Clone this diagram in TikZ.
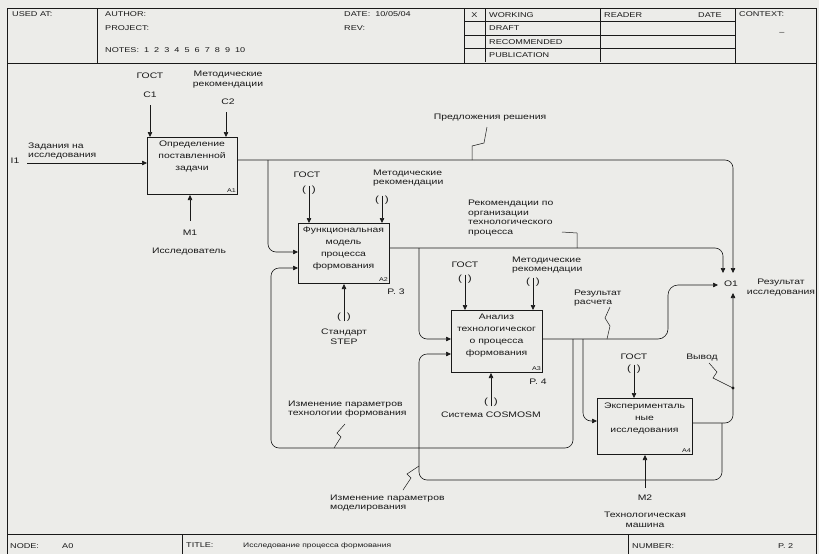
\documentclass[tikz,border=0pt]{standalone}
\usepackage{fontspec}
\setmainfont[FakeStretch=1.3]{Liberation Sans}
\usetikzlibrary{arrows.meta}
\definecolor{bg}{RGB}{236,236,233}
\definecolor{ink}{RGB}{25,25,25}
\begin{document}
\begin{tikzpicture}[x=1pt,y=-1pt,
  every node/.style={text=ink, inner sep=0pt},
  frame/.style={draw=ink, line width=0.8pt},
  fbox/.style={draw=ink, line width=1pt, anchor=north west, inner sep=0pt},
  btxt/.style={font=\fontsize{8}{12}\selectfont, align=center},
  lbl/.style={font=\fontsize{8}{10}\selectfont, align=center},
  lblw/.style={font=\fontsize{8}{9.5}\selectfont, align=left, anchor=west},
  hdr/.style={font=\fontsize{7}{8}\selectfont, anchor=west},
  bid/.style={font=\fontsize{5.5}{6}\selectfont, anchor=south east},
  tun/.style={font=\fontsize{9}{10}\selectfont},
  conn/.style={draw=ink, line width=0.6pt, rounded corners=8pt},
  arr/.style={conn, -{Triangle[length=5pt,width=4.5pt]}},
  sq/.style={draw=ink, line width=0.5pt},
]
\fill[bg] (0,0) rectangle (819,554);
\useasboundingbox (0,0) rectangle (819,554);

% ---------- frame, header, footer ----------
\draw[frame] (7,554) -- (7,8) -- (816,8) -- (816,554);
\draw[frame] (7,63) -- (816,63);
\draw[frame] (7,534) -- (816,534);
\draw[frame] (97,8) -- (97,63);
\draw[frame] (464,8) -- (464,63);
\draw[frame] (485,8) -- (485,62);
\draw[frame] (600,8) -- (600,62);
\draw[frame] (735,8) -- (735,63);
\draw[frame] (464,21.5) -- (735,21.5);
\draw[frame] (464,35) -- (735,35);
\draw[frame] (464,48.5) -- (735,48.5);
\draw[frame] (182,534) -- (182,554);
\draw[frame] (628,534) -- (628,554);

\node[hdr] (usedat) at (12,14) {USED AT:};
\node[hdr] (author) at (105,14) {AUTHOR:};
\node[hdr] (project) at (105,28) {PROJECT:};
\node[hdr] (notes) at (105,50) {NOTES:\ \ 1\ \ 2\ \ 3\ \ 4\ \ 5\ \ 6\ \ 7\ \ 8\ \ 9\ \ 10};
\node[hdr] (date) at (344,14) {DATE:\ \ 10/05/04};
\node[hdr] (rev) at (344,28) {REV:};
\node[hdr, anchor=center] (xmark) at (474.5,15) {X};
\node[hdr] (working) at (489,15) {WORKING};
\node[hdr] (draft) at (489,28.5) {DRAFT};
\node[hdr] (recom) at (489,42) {RECOMMENDED};
\node[hdr] (publ) at (489,55.5) {PUBLICATION};
\node[hdr] (reader) at (604,15) {READER};
\node[hdr] (date2) at (698,15) {DATE};
\node[hdr] (context) at (739,14) {CONTEXT:};
\node[hdr, anchor=center] (ctxdash) at (782,33) {--};

\node[hdr] (node) at (10,546) {NODE:};
\node[hdr] (a0) at (62,546) {A0};
\node[hdr] (title) at (186,545) {TITLE:};
\node[hdr, font=\fontsize{6.5}{7}\selectfont] (titletext) at (243,546) {Исследование процесса формования};
\node[hdr] (number) at (632,546) {NUMBER:};
\node[hdr] (p2) at (778,546) {P. 2};

% ---------- activity boxes ----------
\node[fbox, minimum width=90pt, minimum height=57pt] (A1) at (147,137) {};
\node[fbox, minimum width=91pt, minimum height=60pt] (A2) at (298,223) {};
\node[fbox, minimum width=91pt, minimum height=62pt] (A3) at (451,310) {};
\node[fbox, minimum width=95pt, minimum height=56pt] (A4) at (597,398) {};

\node[btxt] (A1t) at (192,157) {Определение\\поставленной\\задачи};
\node[btxt] (A2t) at (343.5,249) {Функциональная\\модель\\процесса\\формования};
\node[btxt] (A3t) at (496.5,336) {Анализ\\технологическог\\о процесса\\формования};
\node[btxt] (A4t) at (644.5,418) {Эксперименталь\\ные\\исследования};

\node[bid] (A1n) at ([xshift=-2pt,yshift=2pt]A1.south east) {A1};
\node[bid] (A2n) at ([xshift=-2pt,yshift=2pt]A2.south east) {A2};
\node[bid] (A3n) at ([xshift=-2pt,yshift=2pt]A3.south east) {A3};
\node[bid] (A4n) at ([xshift=-2pt,yshift=2pt]A4.south east) {A4};

\node[lbl] (p3) at (396,292) {P. 3};
\node[lbl] (p4) at (538,382) {P. 4};

% ---------- A1 arrows ----------
\node[lbl] (gost1) at (150,76) {ГОСТ};
\node[lbl] (c1l) at (150,95) {C1};
\node[lbl] (met1) at (228,80) {Методические\\рекомендации};
\node[lbl] (c2l) at (228,102) {C2};
\node[lbl] (m1l) at (190,233) {M1};
\node[lbl] (issl) at (189,252) {Исследователь};
\node[lblw] (zad) at (28,151) {Задания на\\исследования};
\node[lbl] (i1l) at (15,161) {I1};

\coordinate (c1) at (150,105);
\coordinate (c2) at (226,112);
\coordinate (m1) at (190,221);
\coordinate (i1) at (27,163);
\draw[arr] (c1) -- (c1 |- A1.north);
\draw[arr] (c2) -- (c2 |- A1.north);
\draw[arr] (m1) -- (m1 |- A1.south);
\draw[arr] (i1) -- (i1 -| A1.west);

% ---------- output port O1 ----------
\node[lbl] (O1) at (731,284) {O1};
\node[lbl] (resi) at (781,288) {Результат\\исследования};
\coordinate (o1t1) at (723,273);
\coordinate (o1t2) at (733,273);
\coordinate (o1l) at (718,285);
\coordinate (o1b) at (733,293);

% A1 output
\coordinate (a1y) at (0,160);
\draw[arr] (A1.east |- a1y) -- (733,160) -- (o1t2);
\coordinate (j1) at (268,160);
\coordinate (w1) at (268,252);
\draw[arr] (j1) -- (w1) -- (w1 -| A2.west);
\node[lbl] (pred) at (490,118) {Предложения решения};
\draw[sq] (487,127) -- (484,143) -- (472,146) -- (472,160);

% ---------- A2 arrows ----------
\node[lbl] (gost2) at (307,175) {ГОСТ};
\node[tun] (t21) at (309,190) {(\hspace{6pt})};
\draw[arr] (t21.north) -- (t21.north |- A2.north);
\node[lblw] (met2) at (373,178) {Методические\\рекомендации};
\node[tun] (t22) at (382,200) {(\hspace{6pt})};
\draw[arr] (t22.north) -- (t22.north |- A2.north);
\node[tun] (t23) at (344,317) {(\hspace{6pt})};
\draw[arr] (t23.south) -- (t23.south |- A2.south);
\node[lbl] (std) at (344,337) {Стандарт\\STEP};

\coordinate (a2y) at (0,248);
\draw[arr] (A2.east |- a2y) -- (723,248) -- (o1t1);
\coordinate (j2) at (419,248);
\coordinate (w2) at (419,339);
\draw[arr] (j2) -- (w2) -- (w2 -| A3.west);
\node[lblw] (rek) at (468,218) {Рекомендации по\\организации\\технологического\\процесса};
\draw[sq] (562,232) -- (577,233) -- (577,248);

% ---------- A3 arrows ----------
\node[lbl] (gost3) at (465,265) {ГОСТ};
\node[tun] (t31) at (465,279) {(\hspace{6pt})};
\draw[arr] (t31.north) -- (t31.north |- A3.north);
\node[lblw] (met3) at (512,265) {Методические\\рекомендации};
\node[tun] (t32) at (533,282) {(\hspace{6pt})};
\draw[arr] (t32.north) -- (t32.north |- A3.north);
\node[tun] (t33) at (491,402) {(\hspace{6pt})};
\draw[arr] (t33.south) -- (t33.south |- A3.south);
\node[lbl] (cosm) at (491,415) {Система COSMOSM};

\coordinate (a3y) at (0,339);
\draw[arr, rounded corners=10pt] (A3.east |- a3y) -- (668,339) -- (668,285) -- (o1l);
\node[lblw] (rr) at (574,298) {Результат\\расчета};
\draw[sq] (610,307) -- (605,318) -- (610,326) -- (607,339);

\coordinate (j3) at (573,339);
\coordinate (w3) at (271,268);
\draw[arr] (j3) -- (573,448) -- (271,448) -- (w3) -- (w3 -| A2.west);
\node[lblw] (iz1) at (288,409) {Изменение параметров\\технологии формования};
\draw[sq] (345,424) -- (337,433) -- (341,437) -- (334,448);

\coordinate (j4) at (583,339);
\coordinate (w4) at (583,421);
\draw[arr] (j4) -- (w4) -- (w4 -| A4.west);

% ---------- A4 arrows ----------
\node[lbl] (gost4) at (634,357) {ГОСТ};
\node[tun] (t41) at (634,369) {(\hspace{6pt})};
\draw[arr] (t41.north) -- (t41.north |- A4.north);
\coordinate (m2) at (645,488);
\draw[arr] (m2) -- (m2 |- A4.south);
\node[lbl] (m2l) at (645,498) {M2};
\node[lbl] (tm) at (645,520) {Технологическая\\машина};

\coordinate (a4y) at (0,423);
\draw[arr] (A4.east |- a4y) -- (733,423) -- (o1b);
\fill[ink] (733,388) circle (1.6pt);
\node[lbl] (vyv) at (702,358) {Вывод};
\draw[sq] (709,363) -- (717,372) -- (713,378) -- (733,388);

\coordinate (j5) at (722,423);
\coordinate (w5) at (419,354);
\draw[arr] (j5) -- (722,480) -- (419,480) -- (w5) -- (w5 -| A3.west);
\node[lblw] (iz2) at (330,503) {Изменение параметров\\моделирования};
\draw[sq] (403,490) -- (411,478) -- (407,474) -- (419,466);

\end{tikzpicture}
\end{document}
